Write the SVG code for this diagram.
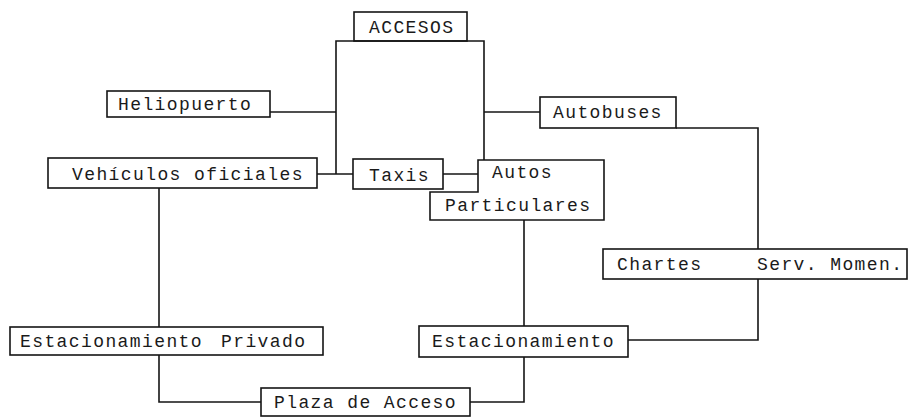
<svg xmlns="http://www.w3.org/2000/svg" width="908" height="418" viewBox="0 0 908 418">
<style>
.box{fill:none;stroke:#141414;stroke-width:1.6}
.ln{fill:none;stroke:#141414;stroke-width:1.6}
text{font-family:"Liberation Mono","DejaVu Sans Mono",monospace;font-size:18px;letter-spacing:1.4px;fill:#1a1a1a}
</style>
<rect width="908" height="418" fill="#fff"/>
<g id="connectors">
<path class="ln" d="M336,174 V41 H484 V160"/>
<path class="ln" d="M270,112 H336"/>
<path class="ln" d="M317,174 H353"/>
<path class="ln" d="M484,112 H540"/>
<path class="ln" d="M443,174 H478"/>
<path class="ln" d="M676,128 H758 V249"/>
<path class="ln" d="M758,279 V340 H628"/>
<path class="ln" d="M524,220 V326"/>
<path class="ln" d="M524,357 V402 H470"/>
<path class="ln" d="M159,188 V327"/>
<path class="ln" d="M159,355 V402 H261"/>
</g>
<g id="accesos">
<rect class="box" x="354" y="12" width="113" height="29"/>
<text x="369" y="33">ACCESOS</text>
</g>
<g id="heliopuerto">
<rect class="box" x="107" y="91" width="163" height="26"/>
<text x="118" y="110">Heliopuerto</text>
</g>
<g id="autobuses">
<rect class="box" x="540" y="97" width="136" height="31"/>
<text x="553" y="118">Autobuses</text>
</g>
<g id="vehiculos">
<rect class="box" x="48" y="158" width="269" height="30"/>
<text x="72" y="180">Vehículos oficiales</text>
</g>
<g id="taxis">
<rect class="box" x="353" y="159" width="90" height="30"/>
<text x="369" y="181">Taxis</text>
</g>
<g id="autos">
<path class="box" d="M478,160 H604 V220 H430 V192 H478 Z"/>
<text x="492" y="178">Autos</text>
<text x="445" y="211">Particulares</text>
</g>
<g id="chartes">
<rect class="box" x="603" y="249" width="304" height="30"/>
<text y="270"><tspan x="617">Chartes</tspan><tspan x="757">Serv. Momen.</tspan></text>
</g>
<g id="est-privado">
<rect class="box" x="10" y="327" width="313" height="28"/>
<text y="347"><tspan x="20">Estacionamiento</tspan><tspan x="221">Privado</tspan></text>
</g>
<g id="estacionamiento">
<rect class="box" x="419" y="326" width="209" height="31"/>
<text x="432" y="347">Estacionamiento</text>
</g>
<g id="plaza">
<rect class="box" x="261" y="388" width="209" height="28"/>
<text x="274" y="408">Plaza de Acceso</text>
</g>
</svg>
